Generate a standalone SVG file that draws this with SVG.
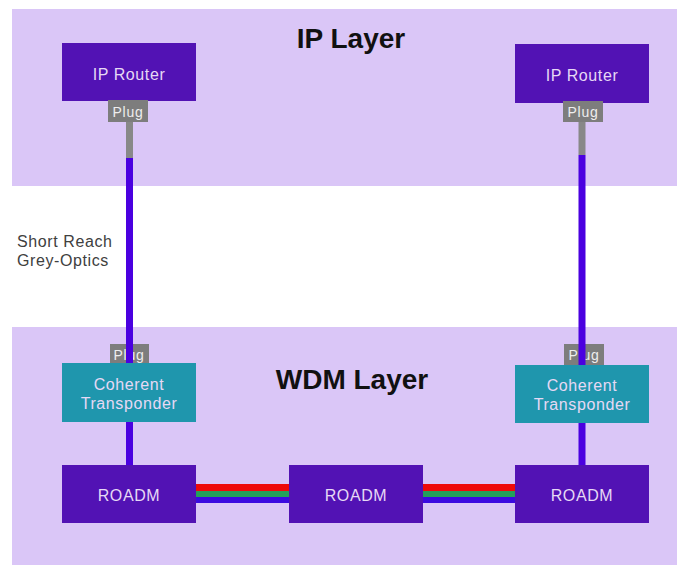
<svg xmlns="http://www.w3.org/2000/svg" width="677" height="565" viewBox="0 0 677 565">
<style>
.band{fill:#dac6f7}
.title{font-family:"Liberation Sans",Arial,sans-serif;font-weight:bold;font-size:28px;fill:#111;text-anchor:middle}
.dev{fill:#5212b4}
.tp{fill:#1f96ad}
.plug{fill:#7d7d7d}
.lbl{font-family:"Liberation Sans",Arial,sans-serif;font-size:16px;letter-spacing:0.6px;fill:#e6d9f5;text-anchor:middle}
.plbl{font-family:"Liberation Sans",Arial,sans-serif;font-size:14px;letter-spacing:0.8px;fill:#eeeeee;text-anchor:middle}
.note{font-family:"Liberation Sans",Arial,sans-serif;font-size:16px;letter-spacing:0.6px;fill:#404040}
.fib{stroke:#4a00e0;stroke-width:7;fill:none}
.grey{stroke:#888888;stroke-width:7;fill:none}
</style>
<rect width="677" height="565" fill="#ffffff"/>
<g id="ip-layer">
<rect class="band" x="12" y="9" width="665" height="177"/>
<text class="title" x="351" y="48">IP Layer</text>
</g>
<g id="wdm-layer">
<rect class="band" x="12" y="327" width="665" height="238"/>
<text class="title" x="352" y="389">WDM Layer</text>
</g>
<g id="note">
<text class="note" x="17" y="247">Short Reach</text>
<text class="note" x="17" y="266">Grey-Optics</text>
</g>
<g id="router-left">
<rect class="dev" x="62" y="43" width="134" height="58"/>
<text class="lbl" x="129" y="80">IP Router</text>
</g>
<g id="router-right">
<rect class="dev" x="515" y="44" width="134" height="59"/>
<text class="lbl" x="582" y="81">IP Router</text>
</g>
<g id="plug-ip-left">
<rect class="plug" x="108" y="100" width="40" height="22"/>
<text class="plbl" x="128" y="117">Plug</text>
</g>
<g id="plug-ip-right">
<rect class="plug" x="563" y="101" width="40" height="21"/>
<text class="plbl" x="583" y="117">Plug</text>
</g>
<g id="plug-wdm-left">
<rect class="plug" x="110" y="344" width="39" height="20"/>
<text class="plbl" x="129" y="360">Plug</text>
</g>
<g id="plug-wdm-right">
<rect class="plug" x="564" y="344" width="40" height="21"/>
<text class="plbl" x="584" y="360">Plug</text>
</g>
<g id="connectors">
<line class="grey" x1="129.5" y1="122" x2="129.5" y2="158"/>
<line class="fib" x1="129.5" y1="158" x2="129.5" y2="364"/>
<line class="fib" x1="129.5" y1="421" x2="129.5" y2="466"/>
<line class="grey" x1="582" y1="122" x2="582" y2="155"/>
<line class="fib" x1="582" y1="155" x2="582" y2="366"/>
<line class="fib" x1="582" y1="422" x2="582" y2="466"/>
<rect x="196" y="484" width="93" height="7" fill="#ee0a0a"/>
<rect x="196" y="491" width="93" height="6" fill="#23a05a"/>
<rect x="196" y="497" width="93" height="6" fill="#3b0ae0"/>
<rect x="423" y="484" width="93" height="7" fill="#ee0a0a"/>
<rect x="423" y="491" width="93" height="6" fill="#23a05a"/>
<rect x="423" y="497" width="93" height="6" fill="#3b0ae0"/>
</g>
<g id="transponder-left">
<rect class="tp" x="62" y="363" width="134" height="59"/>
<text class="lbl" x="129" y="390">Coherent</text>
<text class="lbl" x="129" y="409">Transponder</text>
</g>
<g id="transponder-right">
<rect class="tp" x="515" y="365" width="134" height="58"/>
<text class="lbl" x="582" y="391">Coherent</text>
<text class="lbl" x="582" y="410">Transponder</text>
</g>
<g id="roadm-left">
<rect class="dev" x="62" y="465" width="134" height="58"/>
<text class="lbl" x="129" y="501">ROADM</text>
</g>
<g id="roadm-middle">
<rect class="dev" x="289" y="465" width="134" height="58"/>
<text class="lbl" x="356" y="501">ROADM</text>
</g>
<g id="roadm-right">
<rect class="dev" x="515" y="465" width="134" height="58"/>
<text class="lbl" x="582" y="501">ROADM</text>
</g>
</svg>
